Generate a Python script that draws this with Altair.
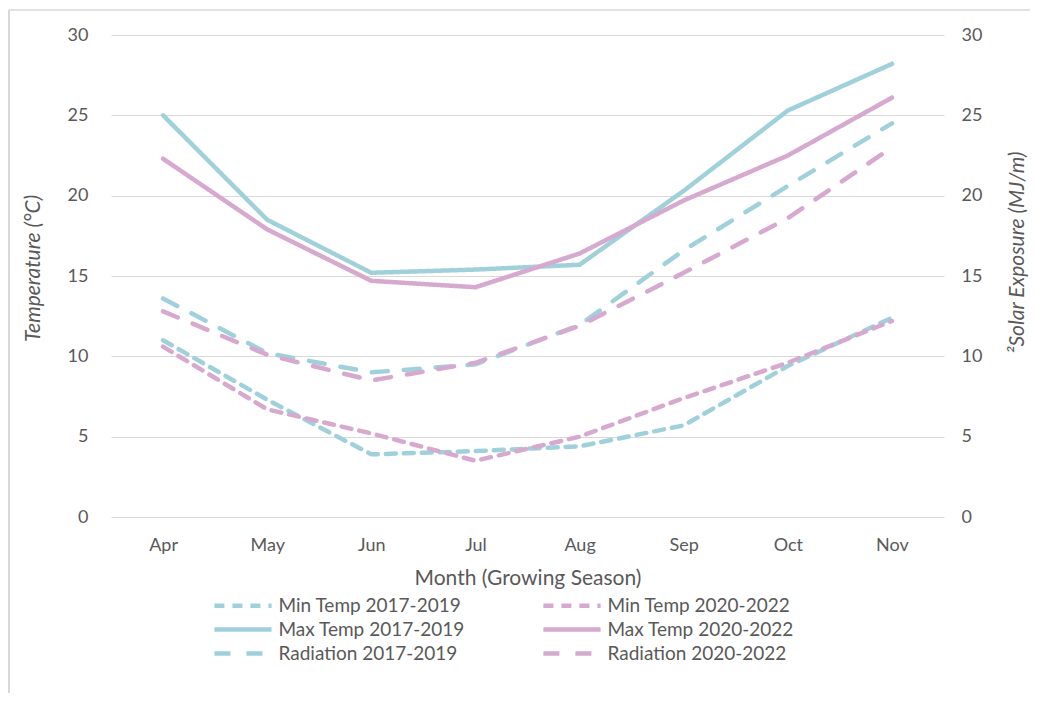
import altair as alt
import pandas as pd

months = ["Apr", "May", "Jun", "Jul", "Aug", "Sep", "Oct", "Nov"]
min_1719 = [11.0, 7.3, 3.9, 4.1, 4.4, 5.7, 9.4, 12.4]
min_2022 = [10.6, 6.7, 5.2, 3.5, 5.0, 7.4, 9.6, 12.2]
max_1719 = [25.0, 18.5, 15.2, 15.4, 15.7, 20.3, 25.3, 28.2]
max_2022 = [22.3, 17.9, 14.7, 14.3, 16.4, 19.7, 22.5, 26.1]
rad_1719 = [13.6, 10.2, 9.0, 9.5, 11.95, 16.6, 20.6, 24.5]
rad_2022 = [12.8, 10.1, 8.5, 9.6, 11.9, 15.2, 18.6, 23.0]

# legend order is column-major: first column 2017-2019, second column 2020-2022
series_names = [
    "Min Temp 2017-2019", "Max Temp 2017-2019", "Radiation 2017-2019",
    "Min Temp 2020-2022", "Max Temp 2020-2022", "Radiation 2020-2022",
]
series_values = [min_1719, max_1719, rad_1719, min_2022, max_2022, rad_2022]
series_kind = ["temp", "temp", "rad", "temp", "temp", "rad"]

TEAL = "#A0D1DB"
PINK = "#D6A9CE"
colors = [TEAL, TEAL, TEAL, PINK, PINK, PINK]
dashes = [[10, 8], [1, 0], [16, 16], [10, 8], [1, 0], [16, 16]]

rows = []
for name, vals, kind in zip(series_names, series_values, series_kind):
    for m, v in zip(months, vals):
        rows.append({"month": m, "value": v, "series": name, "kind": kind})
df = pd.DataFrame(rows)

TXT = "#595959"
GRID = "#D9D9D9"
FONT = "Lato"

x_enc = alt.X("month:O", sort=months, scale=alt.Scale(domain=months, padding=0.5),
              axis=alt.Axis(title="Month (Growing Season)", labelAngle=0, ticks=False,
                            domain=False, labelPadding=19, titlePadding=13))

color_enc = alt.Color("series:N", scale=alt.Scale(domain=series_names, range=colors),
                      sort=series_names,
                      legend=alt.Legend(title=None, orient="none", legendX=118.5, legendY=557,
                                        columns=2, columnPadding=68, rowPadding=0,
                                        direction="vertical",
                                        symbolType="M-2.6,0L2.6,0", symbolSize=484,
                                        symbolStrokeWidth=4.5, labelOffset=22, labelLimit=400,
                                        labelFontSize=19, labelColor=TXT, labelFont=FONT))
dash_enc = alt.StrokeDash("series:N", scale=alt.Scale(domain=series_names, range=dashes),
                          sort=series_names, legend=None)

temp = alt.Chart(df).transform_filter(alt.datum.kind == "temp").mark_line(
    strokeWidth=4.5, strokeCap="round", strokeJoin="round"
).encode(
    x=x_enc,
    y=alt.Y("value:Q", scale=alt.Scale(domain=[0, 30]),
            axis=alt.Axis(title="Temperature (°C)", titleFontStyle="italic", values=[0, 5, 10, 15, 20, 25, 30],
                          grid=True, gridColor=GRID, ticks=False, domain=False,
                          labelPadding=23, titlePadding=24, titleY=233)),
    color=color_enc,
    strokeDash=dash_enc,
)

rad = alt.Chart(df).transform_filter(alt.datum.kind == "rad").mark_line(
    strokeWidth=4.5, strokeCap="round", strokeJoin="round"
).encode(
    x=x_enc,
    y=alt.Y("value:Q", scale=alt.Scale(domain=[0, 30]),
            axis=alt.Axis(title="²Solar Exposure (MJ/m)", titleFontStyle="italic", orient="right",
                          titleAngle=270, values=[0, 5, 10, 15, 20, 25, 30],
                          grid=False, ticks=False, domain=False,
                          labelPadding=17, titlePadding=46, titleY=217)),
    color=color_enc,
    strokeDash=dash_enc,
)

frame_v = alt.Chart(alt.Data(values=[{}])).mark_rule(color=GRID, strokeWidth=2).encode(
    x=alt.value(-102), y=alt.value(-25), y2=alt.value(680))
frame_h = alt.Chart(alt.Data(values=[{}])).mark_rule(color=GRID, strokeWidth=1.5).encode(
    x=alt.value(-102), x2=alt.value(930), y=alt.value(-25))

chart = alt.layer(frame_v, frame_h, temp, rad).resolve_scale(y="independent").properties(
    width=833, height=482,
    autosize=alt.AutoSizeParams(type="none"),
    padding={"left": 103, "top": 27, "right": 86, "bottom": 176},
).configure_view(stroke=None).configure_axis(
    labelFont=FONT, titleFont=FONT, labelFontSize=18, titleFontSize=21,
    labelColor=TXT, titleColor=TXT, titleFontWeight="normal",
)

chart.save("out.html", embed_options={"renderer": "svg", "actions": False})
